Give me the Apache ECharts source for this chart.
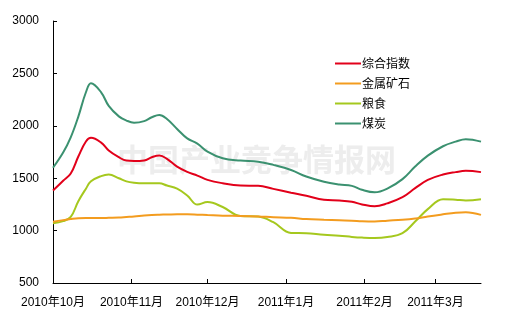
<!DOCTYPE html>
<html>
<head>
<meta charset="utf-8">
<script src="https://cdn.jsdelivr.net/npm/echarts@6/dist/echarts.min.js"></script>
<style>
  html, body { margin: 0; padding: 0; background: #fff; }
  #chart { width: 516px; height: 324px; }
</style>
</head>
<body>
<div id="chart"></div>
<script>
// Days counted from 2010-10-01
const days = [0, 4, 7, 10, 13, 15, 19, 22, 26, 29, 32, 36, 39, 42, 45, 49, 53, 57, 61, 67, 74, 81, 87, 94, 100, 107, 113, 118, 122, 127, 132, 138, 143, 148, 154, 159, 163, 169];

const composite = [1383, 1475, 1545, 1707, 1850, 1885, 1840, 1764, 1700, 1668, 1665, 1670, 1700, 1716, 1685, 1610, 1560, 1525, 1484, 1452, 1430, 1427, 1398, 1362, 1332, 1294, 1287, 1275, 1250, 1232, 1260, 1319, 1405, 1484, 1535, 1558, 1570, 1558];
const metalOre = [1085, 1100, 1110, 1118, 1120, 1120, 1120, 1122, 1125, 1130, 1135, 1145, 1150, 1152, 1153, 1155, 1155, 1152, 1148, 1142, 1140, 1135, 1128, 1122, 1110, 1103, 1098, 1095, 1090, 1088, 1095, 1103, 1115, 1135, 1155, 1170, 1175, 1150];
const grain = [1071, 1090, 1130, 1280, 1400, 1470, 1520, 1535, 1500, 1470, 1457, 1452, 1452, 1452, 1430, 1400, 1335, 1248, 1272, 1225, 1140, 1135, 1080, 978, 975, 960, 952, 940, 933, 929, 938, 975, 1087, 1205, 1300, 1295, 1288, 1300];
const coal = [1600, 1745, 1890, 2088, 2320, 2405, 2320, 2190, 2090, 2050, 2030, 2045, 2082, 2104, 2065, 1970, 1880, 1830, 1754, 1690, 1668, 1658, 1627, 1578, 1516, 1466, 1440, 1427, 1389, 1365, 1400, 1491, 1611, 1715, 1805, 1849, 1872, 1849];

const seriesNames = ['综合指数', '金属矿石', '粮食', '煤炭'];
const seriesColors = ['#e2001a', '#f39c1f', '#a5c81e', '#3b9170'];

const monthStarts = [0, 31, 61, 92, 123, 151];
const monthLabels = ['2010年10月', '2010年11月', '2010年12月', '2011年1月', '2011年2月', '2011年3月'];
const yTicks = [500, 1000, 1500, 2000, 2500, 3000];

const fontFamily = '"Liberation Sans", Arial, "Noto Sans CJK SC", sans-serif';

function pairs(values) {
  return days.map((d, i) => [d, values[i]]);
}

const seriesValues = [composite, metalOre, grain, coal];

const chart = echarts.init(document.getElementById('chart'), null, { renderer: 'canvas' });
chart.setOption({
  animation: false,
  backgroundColor: '#ffffff',
  graphic: [{
    type: 'text',
    left: 117,
    top: 144,
    z: -10,
    silent: true,
    style: {
      text: '中国产业竞争情报网',
      fill: '#ededed',
      font: 'bold 31px "Noto Sans CJK SC", sans-serif'
    }
  }],
  grid: { left: 53, top: 21, right: 35, bottom: 41, containLabel: false },
  legend: {
    orient: 'vertical',
    left: 330,
    top: 51,
    itemWidth: 26,
    itemHeight: 2,
    itemGap: 5,
    icon: 'rect',
    textStyle: { fontSize: 12, color: '#000', fontFamily: '"Noto Sans CJK SC", sans-serif', lineHeight: 15, padding: [0, 0, 0, -4] },
    data: seriesNames
  },
  xAxis: {
    type: 'value',
    min: 0,
    max: 169,
    splitLine: { show: false },
    axisLine: { lineStyle: { color: '#000', width: 1 } },
    axisTick: { inside: true, length: 4, lineStyle: { color: '#000' }, customValues: monthStarts },
    axisLabel: {
      customValues: monthStarts,
      formatter: v => monthLabels[monthStarts.indexOf(v)] || '',
      color: '#000',
      fontSize: 12,
      fontFamily: fontFamily,
      margin: 14
    }
  },
  yAxis: {
    type: 'value',
    min: 500,
    max: 3000,
    interval: 500,
    splitLine: { show: false },
    axisLine: { show: true, lineStyle: { color: '#000', width: 1 } },
    axisTick: { show: true, inside: true, length: 4, lineStyle: { color: '#000' } },
    axisLabel: {
      color: '#000',
      fontSize: 12,
      fontFamily: fontFamily,
      margin: 14,
      formatter: v => (yTicks.indexOf(v) >= 0 ? String(v) : '')
    }
  },
  series: seriesNames.map((name, i) => ({
    name: name,
    type: 'line',
    data: pairs(seriesValues[i]),
    smooth: 0.4,
    showSymbol: false,
    symbol: 'none',
    color: seriesColors[i],
    lineStyle: { color: seriesColors[i], width: 2 },
    z: 10 - i
  }))
});
</script>
</body>
</html>
